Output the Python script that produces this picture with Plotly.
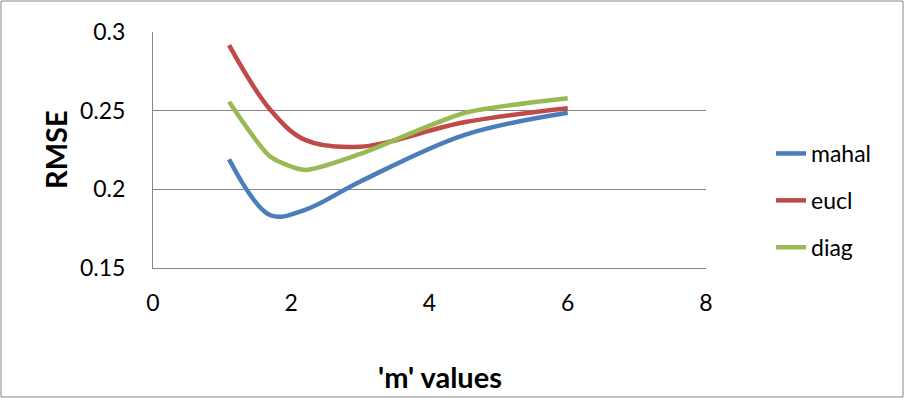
import plotly.graph_objects as go

# RMSE of each distance measure against the fuzzifier 'm'
m_values = [1.1, 1.7, 2.2, 3.0, 4.5, 6.0]
mahal = [0.2191, 0.1835, 0.1870, 0.2050, 0.2345, 0.2487]
eucl = [0.2917, 0.2504, 0.2314, 0.2271, 0.2426, 0.2515]
diag = [0.2557, 0.2207, 0.2123, 0.2225, 0.2485, 0.2579]

series_names = ["mahal", "eucl", "diag"]
series_values = [mahal, eucl, diag]
series_colors = ["#4A7EBB", "#BE4B48", "#98B954"]
series_smoothing = [1.0, 1.0, 0.6]

x_ticks = [0, 2, 4, 6, 8]
y_ticks = [0.15, 0.2, 0.25, 0.3]

FONT = "Lato"
GRID = "#868686"

fig = go.Figure()
for name, vals, color, sm in zip(series_names, series_values, series_colors,
                                 series_smoothing):
    fig.add_trace(go.Scatter(
        x=m_values, y=vals, name=name, mode="lines",
        line=dict(color=color, width=4.5, shape="spline", smoothing=sm),
        legendgroup=name,
    ))

W, H = 904, 398
L, R, T, B = 153, 198, 32, 130
pw, ph = W - L - R, H - T - B


def px_x(p):
    return (p - L) / pw


def px_y(p):
    return 1 - (p - T) / ph


fig.update_layout(
    width=W, height=H,
    margin=dict(l=L, r=R, t=T, b=B),
    paper_bgcolor="white", plot_bgcolor="white",
    font=dict(family=FONT, size=23, color="black"),
    showlegend=True,
    legend=dict(
        x=px_x(771), y=px_y(132), xanchor="left", yanchor="top",
        font=dict(family=FONT, size=23, color="black"),
        traceorder="grouped", tracegroupgap=14,
        bgcolor="rgba(0,0,0,0)",
    ),
    xaxis=dict(
        range=[0, 8], tickvals=x_ticks, showgrid=False, zeroline=False,
        showline=True, linecolor=GRID, linewidth=1, ticks="",
        ticklabelstandoff=14, tickfont=dict(family=FONT, size=23),
    ),
    yaxis=dict(
        range=[0.15, 0.3], tickvals=y_ticks, showgrid=True, gridcolor=GRID,
        gridwidth=1, zeroline=False, showline=True, linecolor=GRID,
        linewidth=1, ticks="", ticklabelstandoff=22,
        tickfont=dict(family=FONT, size=23),
    ),
    annotations=[
        dict(text="<b>'m' values</b>", xref="paper", yref="paper",
             x=px_x(440), y=px_y(376), xanchor="center", yanchor="middle",
             showarrow=False, font=dict(family=FONT, size=29)),
        dict(text="<b>RMSE</b>", xref="paper", yref="paper",
             x=px_x(55), y=0.5, xanchor="center", yanchor="middle",
             textangle=-90, showarrow=False, font=dict(family=FONT, size=29)),
    ],
    shapes=[
        dict(type="rect", xref="paper", yref="paper",
             x0=px_x(1), x1=px_x(903), y0=px_y(397), y1=px_y(1),
             line=dict(color=GRID, width=1), fillcolor="rgba(0,0,0,0)",
             layer="below"),
    ],
)

fig.write_html("out.html")
